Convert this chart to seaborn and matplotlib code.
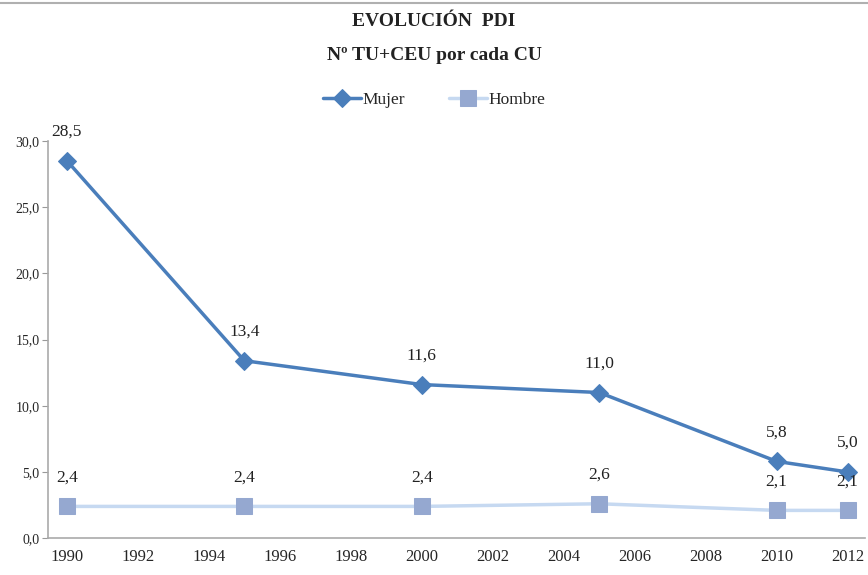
import numpy as np
import pandas as pd
import matplotlib.pyplot as plt
import seaborn as sns
from matplotlib.lines import Line2D

years = [1990, 1995, 2000, 2005, 2010, 2012]
mujer = [28.5, 13.4, 11.6, 11.0, 5.8, 5.0]
hombre = [2.4, 2.4, 2.4, 2.6, 2.1, 2.1]
x_ticks = list(range(1990, 2013, 2))
y_ticks = [0, 5, 10, 15, 20, 25, 30]

df = pd.DataFrame({'year': years * 2,
                   'valor': mujer + hombre,
                   'serie': ['Mujer'] * len(years) + ['Hombre'] * len(years)})

sns.set_theme(style='white')
plt.rcParams['font.family'] = ['Liberation Serif', 'DejaVu Serif']

fig = plt.figure(figsize=(8.68, 5.75), dpi=100)
ax = fig.add_axes([0.055, 0.064, 0.942, 0.691])

c_muj = '#4a7ebb'
c_hom_line = '#c6d9f1'
c_hom_mark = '#95a8d0'

sns.lineplot(data=df[df.serie == 'Hombre'], x='year', y='valor', ax=ax,
             color=c_hom_line, linewidth=2.5, marker='s', markersize=11,
             markerfacecolor=c_hom_mark, markeredgecolor=c_hom_mark, label='Hombre')
sns.lineplot(data=df[df.serie == 'Mujer'], x='year', y='valor', ax=ax,
             color=c_muj, linewidth=2.5, marker='D', markersize=9,
             markerfacecolor=c_muj, markeredgecolor=c_muj, label='Mujer')

# etiquetas de datos
for serie in [mujer, hombre]:
    for x, y in zip(years, serie):
        ax.annotate(f'{y:.1f}'.replace('.', ','), (x, y), xytext=(0, 21),
                    textcoords='offset points', ha='center', va='center',
                    fontsize=12.5, color='#222222', annotation_clip=False)

ax.set_xlim(1989.46, 2012.5)
ax.set_ylim(0, 30)
ax.set_xticks(x_ticks)
ax.set_yticks(y_ticks)
ax.set_xticklabels([str(t) for t in x_ticks], fontsize=12)
ax.set_yticklabels([f'{t:.1f}'.replace('.', ',') for t in y_ticks], fontsize=10)
ax.tick_params(axis='x', length=0, pad=8)
ax.tick_params(axis='y', length=4, width=0.8, color='#999999', left=True, pad=2)
ax.set_xlabel('')
ax.set_ylabel('')
for s in ['top', 'right']:
    ax.spines[s].set_visible(False)
for s in ['left', 'bottom']:
    ax.spines[s].set_color('#aaaaaa')
    ax.spines[s].set_linewidth(1.2)

handles, labels = ax.get_legend_handles_labels()
order = [labels.index('Mujer'), labels.index('Hombre')]
fig.legend([handles[i] for i in order], [labels[i] for i in order],
           loc='center', bbox_to_anchor=(0.5, 0.826), ncol=2, frameon=False,
           fontsize=12.5, handlelength=2.2, handletextpad=0.1, columnspacing=2.5)
ax.get_legend().remove()

fig.text(0.5, 0.963, 'EVOLUCIÓN  PDI', ha='center', va='center',
         fontsize=14, fontweight='bold', color='#222222')
fig.text(0.5, 0.903, 'Nº TU+CEU por cada CU', ha='center', va='center',
         fontsize=14, fontweight='bold', color='#222222')

fig.add_artist(Line2D([0, 1], [0.995, 0.995], transform=fig.transFigure,
                      color='#b0b0b0', linewidth=1.5))

plt.savefig('out.png', dpi=100)
